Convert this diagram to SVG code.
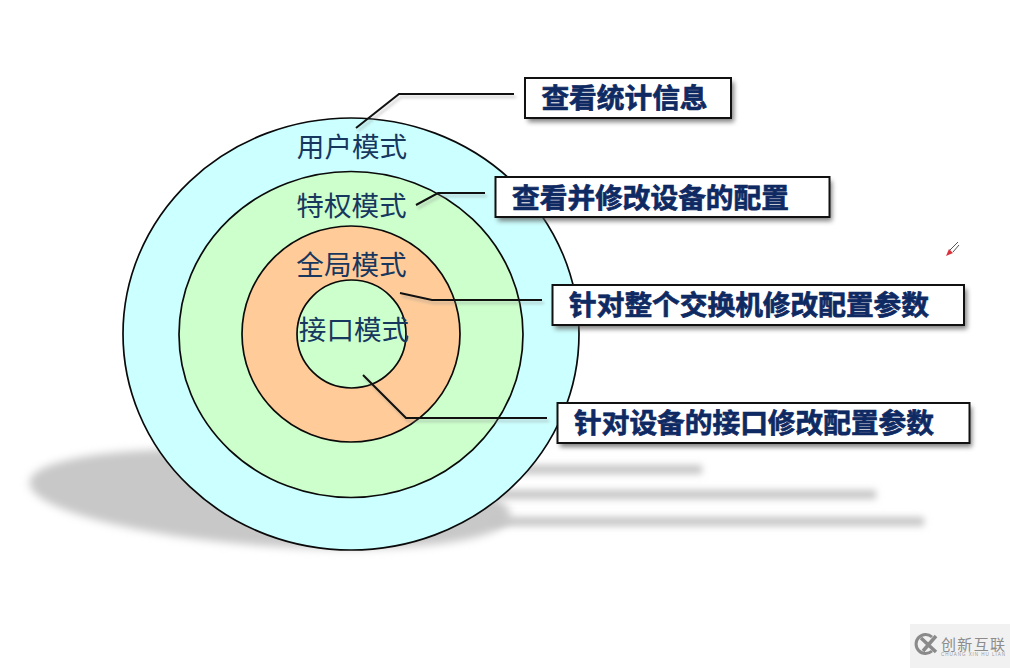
<svg xmlns="http://www.w3.org/2000/svg" width="1010" height="668" viewBox="0 0 1010 668">
<style>
.ring{stroke:#0a0a0a;stroke-width:1.700}
.mode{font:27.600px "Noto Sans CJK SC","Noto Sans",sans-serif;fill:#17375e;text-anchor:middle}
.box{fill:#fff;stroke:#111;stroke-width:2}
.boxshadow{fill:#555;opacity:.75;filter:url(#b3)}
.label{font:700 27.700px "Noto Sans CJK SC","Noto Sans",sans-serif;fill:#0f2a63;stroke:#0f2a63;stroke-width:.7;text-anchor:middle}
.conn{fill:none;stroke:#111;stroke-width:2}
.connshadow{fill:none;stroke:#888;stroke-width:2;opacity:.45;filter:url(#b2)}
.bar{fill:#c6c6c6;filter:url(#b4)}
</style>
<defs>
<filter id="b2" x="-20%" y="-50%" width="140%" height="200%"><feGaussianBlur stdDeviation="1.500"/></filter>
<filter id="b3" x="-10%" y="-60%" width="120%" height="220%"><feGaussianBlur stdDeviation="2.500"/></filter>
<filter id="b4" x="-10%" y="-200%" width="120%" height="500%"><feGaussianBlur stdDeviation="3.500"/></filter>
<filter id="b1" x="-10%" y="-20%" width="120%" height="140%"><feGaussianBlur stdDeviation="4"/></filter>
</defs>
<rect width="1010" height="668" fill="#fff"/>
<g id="floor-shadow">
<ellipse cx="270" cy="499" rx="241" ry="47" transform="rotate(4 270 499)" fill="#c8c8c8" filter="url(#b1)"/>
<rect class="bar" x="480" y="465" width="222" height="9"/>
<rect class="bar" x="480" y="490" width="396" height="9"/>
<rect class="bar" x="490" y="517" width="434" height="9"/>
</g>
<g id="ring-user"><ellipse class="ring" cx="351" cy="334" rx="228" ry="216" fill="#ccffff"/></g>
<g id="ring-priv"><ellipse class="ring" cx="351" cy="334.500" rx="172" ry="163" fill="#ccffcc"/></g>
<g id="ring-global"><ellipse class="ring" cx="351" cy="334" rx="109" ry="108" fill="#ffcc99"/></g>
<g id="ring-iface"><ellipse class="ring" cx="351.500" cy="334" rx="54.500" ry="54" fill="#ccffcc"/></g>
<g id="mode-labels">
<text class="mode" x="352" y="157">用户模式</text>
<text class="mode" x="351.500" y="216">特权模式</text>
<text class="mode" x="351.500" y="275">全局模式</text>
<text class="mode" x="354" y="340">接口模式</text>
</g>
<g id="connectors">
<path class="connshadow" d="M358 131L401 97H516M418 208L440 196H487M402 296L434 303H544M365 378L408 421H549"/>
<path class="conn" d="M356 128L399 94H514"/>
<path class="conn" d="M416 205L438 193H485"/>
<path class="conn" d="M400 293L432 300H542"/>
<path class="conn" d="M363 375L406 418H547"/>
</g>
<g id="box-stats">
<rect class="boxshadow" x="528" y="82" width="206" height="40"/>
<rect class="box" x="525" y="78" width="206" height="40"/>
<text class="label" x="624.500" y="108">查看统计信息</text>
</g>
<g id="box-config">
<rect class="boxshadow" x="498" y="181" width="334" height="40"/>
<rect class="box" x="495.500" y="177" width="334" height="40"/>
<text class="label" x="650.500" y="208">查看并修改设备的配置</text>
</g>
<g id="box-switch">
<rect class="boxshadow" x="555" y="289" width="412" height="40"/>
<rect class="box" x="552.500" y="285" width="411.500" height="40"/>
<text class="label" x="749" y="315">针对整个交换机修改配置参数</text>
</g>
<g id="box-port">
<rect class="boxshadow" x="560" y="407" width="412" height="40"/>
<rect class="box" x="557.500" y="403" width="412" height="40"/>
<text class="label" x="754" y="433">针对设备的接口修改配置参数</text>
</g>
<g id="pen">
<path d="M950 250L958 242M953 252L959 245" fill="none" stroke="#555" stroke-width="1"/>
<path d="M946 256L949 249L953 253Z" fill="#d8323c"/>
</g>
<g id="watermark">
<rect x="910" y="624" width="100" height="44" fill="#f1f1f1"/>
<path d="M932 637A9.500 9.500 0 1 0 932 651" fill="none" stroke="#8a8a8a" stroke-width="3"/>
<path d="M921 638L936 652M936 636L923 651" fill="none" stroke="#8a8a8a" stroke-width="3.500"/>
<text x="941" y="650" font-family="'Noto Sans CJK SC',sans-serif" font-size="15" fill="#8c8c8c" textLength="64">创新互联</text>
<text x="941" y="656" font-family="'Liberation Sans',sans-serif" font-size="4.500" fill="#999" textLength="64">CHUANG XIN HU LIAN</text>
</g>
</svg>
